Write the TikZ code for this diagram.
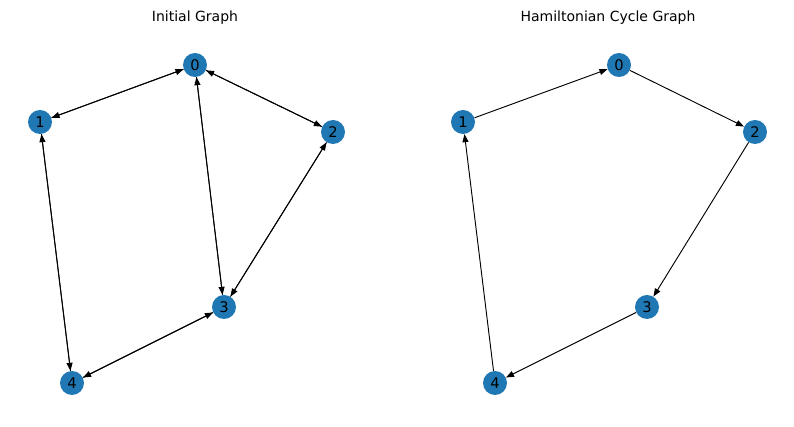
\documentclass[tikz,border=0pt]{standalone}
\usepackage{fontspec}
\setmainfont{DejaVu Sans}
\usetikzlibrary{arrows.meta}
\definecolor{nxblue}{HTML}{1F77B4}
\tikzset{
	vert/.style={circle, fill=nxblue, minimum size=18pt, inner sep=0pt, font=\fontsize{11pt}{11pt}\selectfont},
	arc/.style={draw, -{Triangle[length=6pt,width=4.5pt]}, line width=0.7pt},
	title/.style={font=\fontsize{10.5pt}{12pt}\selectfont}
}
\begin{document}
\begin{tikzpicture}[x=0.75pt,y=-0.75pt]
	\useasboundingbox (0,0) rectangle (794,427);
	% titles
	\node[title] (tleft) at (195,18) {Initial Graph};
	\node[title] (tright) at (608,18) {Hamiltonian Cycle Graph};
	% initial graph
	\node[vert] (a0) at (195,65) {0};
	\node[vert] (a1) at (40,122) {1};
	\node[vert] (a2) at (333,132) {2};
	\node[vert] (a3) at (224,307) {3};
	\node[vert] (a4) at (72,383) {4};
	\foreach \s/\t in {0/1,1/0,0/2,2/0,0/3,3/0,1/4,4/1,2/3,3/2,3/4,4/3}
		\path[arc] (a\s) -- (a\t);
	% cycle graph
	\node[vert] (b0) at (619,65) {0};
	\node[vert] (b1) at (463,122) {1};
	\node[vert] (b2) at (755,132) {2};
	\node[vert] (b3) at (647,307) {3};
	\node[vert] (b4) at (495,383) {4};
	\foreach \s/\t in {1/0,0/2,2/3,3/4,4/1}
		\path[arc] (b\s) -- (b\t);
\end{tikzpicture}
\end{document}
